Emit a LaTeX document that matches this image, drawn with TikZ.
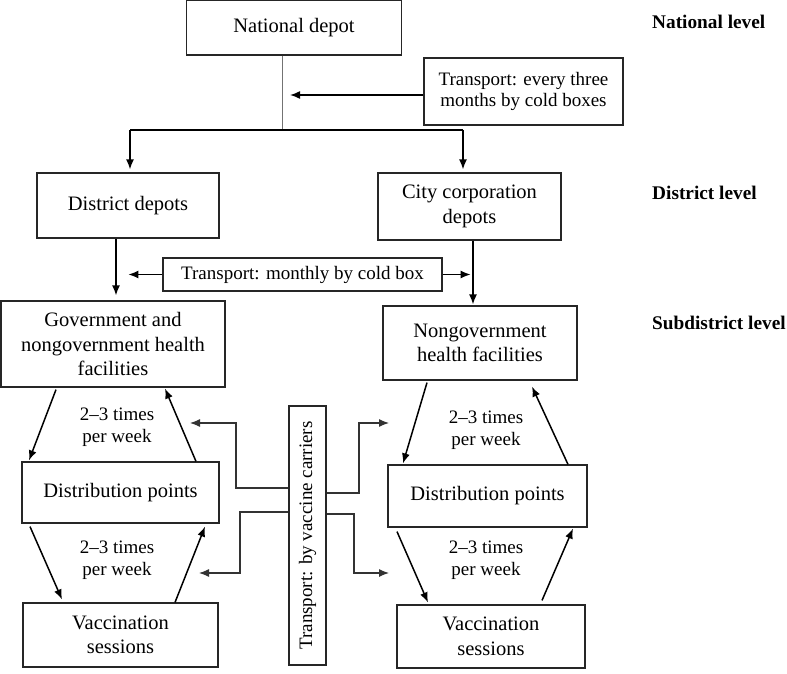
\documentclass[tikz,border=0pt]{standalone}
\usepackage{fontspec}
\setmainfont{Liberation Serif}
\usetikzlibrary{arrows.meta}
\newcommand\bigf{\fontsize{20.5}{24.5}\selectfont}
\newcommand\smf{\fontsize{19}{21.7}\selectfont}
\newcommand\lvf{\fontsize{19.3}{22}\selectfont\bfseries}
\tikzset{
  box/.style={draw=black!85, line width=1.2pt, inner sep=0pt, align=center, font=\bigf},
  tbox/.style={box, font=\smf},
  lab/.style={inner sep=0pt, align=center, font=\smf},
  lvl/.style={inner sep=0pt, anchor=west, font=\lvf},
  arr/.style={line width=1.5pt, -{Latex[length=10pt,width=8pt]}},
  conn/.style={draw=black!80, line width=1.2pt, -{Latex[length=10pt,width=8pt]}}
}
\begin{document}
\begin{tikzpicture}[x=1pt,y=-1pt]
\useasboundingbox (0,0) rectangle (787,674);
% boxes
\node[box, minimum width=215, minimum height=54.4] (nat) at (294,27.8) {National depot};
\node[tbox, minimum width=199, minimum height=67] (t1) at (523.5,91.5) {Transport: every three\\months by cold boxes};
\node[box, minimum width=182, minimum height=65] (dd) at (128,205.5) {District depots};
\node[box, minimum width=183, minimum height=67] (city) at (469.5,206.5) {City corporation\\depots};
\node[tbox, minimum width=279, minimum height=33] (t2) at (302.5,274.5) {Transport: monthly by cold box};
\node[box, minimum width=224, minimum height=86] (gov) at (113,344) {Government and\\nongovernment health\\facilities};
\node[box, minimum width=194, minimum height=74] (ngov) at (480,343) {Nongovernment\\health facilities};
\node[box, minimum width=197, minimum height=61] (ldist) at (120.5,492.5) {Distribution points};
\node[box, minimum width=195, minimum height=64] (lvac) at (120.5,635) {Vaccination\\sessions};
\node[box, minimum width=199, minimum height=62] (rdist) at (487.5,496) {Distribution points};
\node[box, minimum width=188, minimum height=63] (rvac) at (491,636.5) {Vaccination\\sessions};
\node[tbox, rotate=90, minimum width=259, minimum height=37] (vt) at (307.5,535.5) {Transport: by vaccine carriers};
% labels
\node[lab] (l1) at (117,427.5) {2--3 times\\per week};
\node[lab] (l2) at (117,560) {2--3 times\\per week};
\node[lab] (l3) at (486,430) {2--3 times\\per week};
\node[lab] (l4) at (486,560) {2--3 times\\per week};
\node[lvl] (n1) at (652,22) {National level};
\node[lvl] (n2) at (652,193) {District level};
\node[lvl] (n3) at (652,323) {Subdistrict level};
% national to district
\coordinate (j) at (282,130);
\draw[draw=black!55, line width=1pt] (nat.south -| j) -- (j);
\draw[line width=1.5pt] (130,130) -- (463,130);
\draw[arr] (130,130) -- ([yshift=3pt]dd.north -| 130,0);
\draw[arr] (463,130) -- ([yshift=3pt]city.north -| 463,0);
\draw[arr] (t1.west |- 0,95) -- (290,95);
% district to subdistrict
\draw[arr] (dd.south -| 116,0) -- ([yshift=5pt]gov.north -| 116,0);
\draw[arr] (city.south -| 473,0) -- ([yshift=1pt]ngov.north -| 473,0);
\draw[arr] (t2.west) -- ++(-34,0);
\draw[arr] (t2.east) -- ++(28,0);
% left column
\draw[arr] ([yshift=-2pt]gov.south -| 56,0) -- ([yshift=1pt]ldist.north -| 29,0);
\draw[arr] (ldist.north -| 196,0) -- ([yshift=-1pt]gov.south -| 165,0);
\draw[arr] ([yshift=-3pt]ldist.south -| 30,0) -- ([yshift=3pt]lvac.north -| 62,0);
\draw[arr] (lvac.north -| 175,0) -- ([yshift=-3pt]ldist.south -| 205,0);
% right column
\draw[arr] ([yshift=-2pt]ngov.south -| 427,0) -- ([yshift=1pt]rdist.north -| 403,0);
\draw[arr] (rdist.north -| 568,0) -- ([yshift=-6pt]ngov.south -| 532,0);
\draw[arr] ([yshift=-4pt]rdist.south -| 397,0) -- ([yshift=2pt]rvac.north -| 428,0);
\draw[arr] ([yshift=4pt]rvac.north -| 542,0) -- ([yshift=-1pt]rdist.south -| 573,0);
% vaccine carrier connectors
\draw[conn] (vt.north |- 0,488) -- (236,488) |- (190,423);
\draw[conn] (vt.north |- 0,512) -- (240,512) |- (199,573);
\draw[conn] (vt.south |- 0,493) -- (359,493) |- (389,423);
\draw[conn] (vt.south |- 0,514) -- (354,514) |- (389,573);
\end{tikzpicture}
\end{document}
